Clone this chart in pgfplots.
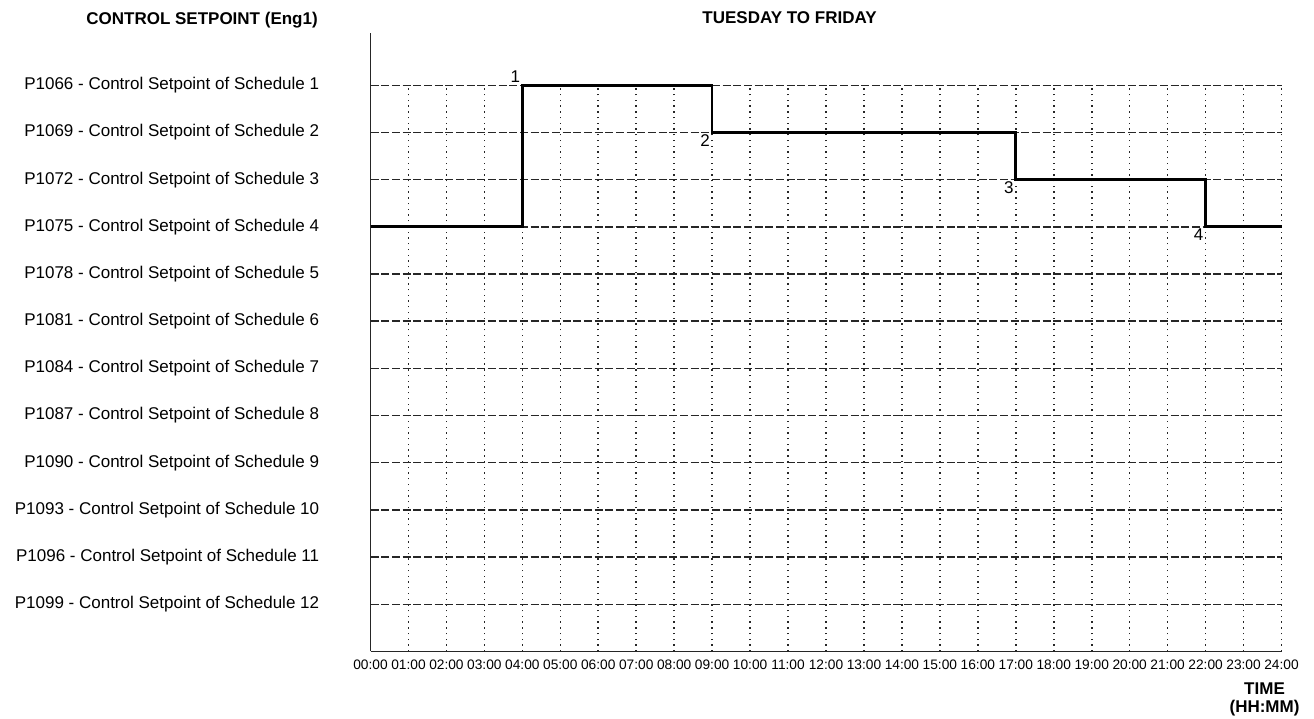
\documentclass[border=0pt]{standalone}
\usepackage{fontspec}
\setmainfont{Liberation Sans}
\usepackage{pgfplots}
\pgfplotsset{compat=1.18}
\begin{document}
\begin{tikzpicture}
\useasboundingbox (-277.9pt,-49.9pt) rectangle (707.6pt,488.6pt);
\begin{axis}[
  at={(0pt,0pt)}, anchor=south west,
  scale only axis, width=683.25pt, height=463.6pt,
  xmin=0, xmax=24, ymin=0, ymax=13.1,
  axis lines*=left,
  axis line style={line width=1.3pt, black!85},
  xtick={0,...,24},
  xticklabels={00:00,01:00,02:00,03:00,04:00,05:00,06:00,07:00,08:00,09:00,10:00,11:00,12:00,13:00,14:00,15:00,16:00,17:00,18:00,19:00,20:00,21:00,22:00,23:00,24:00},
  ytick={1,...,12},
  yticklabels={
    P1099 - Control Setpoint of Schedule 12,
    P1096 - Control Setpoint of Schedule 11,
    P1093 - Control Setpoint of Schedule 10,
    P1090 - Control Setpoint of Schedule 9,
    P1087 - Control Setpoint of Schedule 8,
    P1084 - Control Setpoint of Schedule 7,
    P1081 - Control Setpoint of Schedule 6,
    P1078 - Control Setpoint of Schedule 5,
    P1075 - Control Setpoint of Schedule 4,
    P1072 - Control Setpoint of Schedule 3,
    P1069 - Control Setpoint of Schedule 2,
    P1066 - Control Setpoint of Schedule 1},
  major tick length=0pt,
  ymajorgrids,
  grid style={black!85, line width=1.1pt, dash pattern=on 6pt off 2pt},
  xticklabel style={font=\fontsize{10.3}{12}\selectfont, yshift=-3pt},
  yticklabel style={font=\fontsize{12.75}{14}\selectfont, xshift=-35pt},
  clip=false,
]
\pgfplotsinvokeforeach{1,...,24}{
  \draw[black!85, line width=1.2pt, dash pattern=on 1pt off 3.3pt] (axis cs:#1,0) -- (axis cs:#1,12);
}
\addplot[black, line width=2pt, const plot mark left] coordinates {
  (0,9) (4,12) (9,11) (17,10) (22,9) (24,9)
};
\node[anchor=south east, inner sep=1.5pt, font=\fontsize{12.75}{14}\selectfont] at (axis cs:4,12) {1};
\node[anchor=north east, inner sep=1.5pt, font=\fontsize{12.75}{14}\selectfont] at (axis cs:9,11) {2};
\node[anchor=north east, inner sep=1.5pt, font=\fontsize{12.75}{14}\selectfont] at (axis cs:17,10) {3};
\node[anchor=north east, inner sep=1.5pt, font=\fontsize{12.75}{14}\selectfont] at (axis cs:22,9) {4};
\end{axis}
\node[anchor=base east, inner sep=0pt, font=\bfseries\fontsize{12.75}{14}\selectfont] at (-39.4pt,469.9pt) {CONTROL SETPOINT (Eng1)};
\node[anchor=base, inner sep=0pt, font=\bfseries\fontsize{12.75}{14}\selectfont] at (314.25pt,470.6pt) {TUESDAY TO FRIDAY};
\node[anchor=base, inner sep=0pt, font=\bfseries\fontsize{12.75}{14}\selectfont] at (670.5pt,-32.6pt) {TIME};
\node[anchor=base, inner sep=0pt, font=\bfseries\fontsize{12.75}{14}\selectfont] at (670.5pt,-46.1pt) {(HH:MM)};
\end{tikzpicture}
\end{document}
